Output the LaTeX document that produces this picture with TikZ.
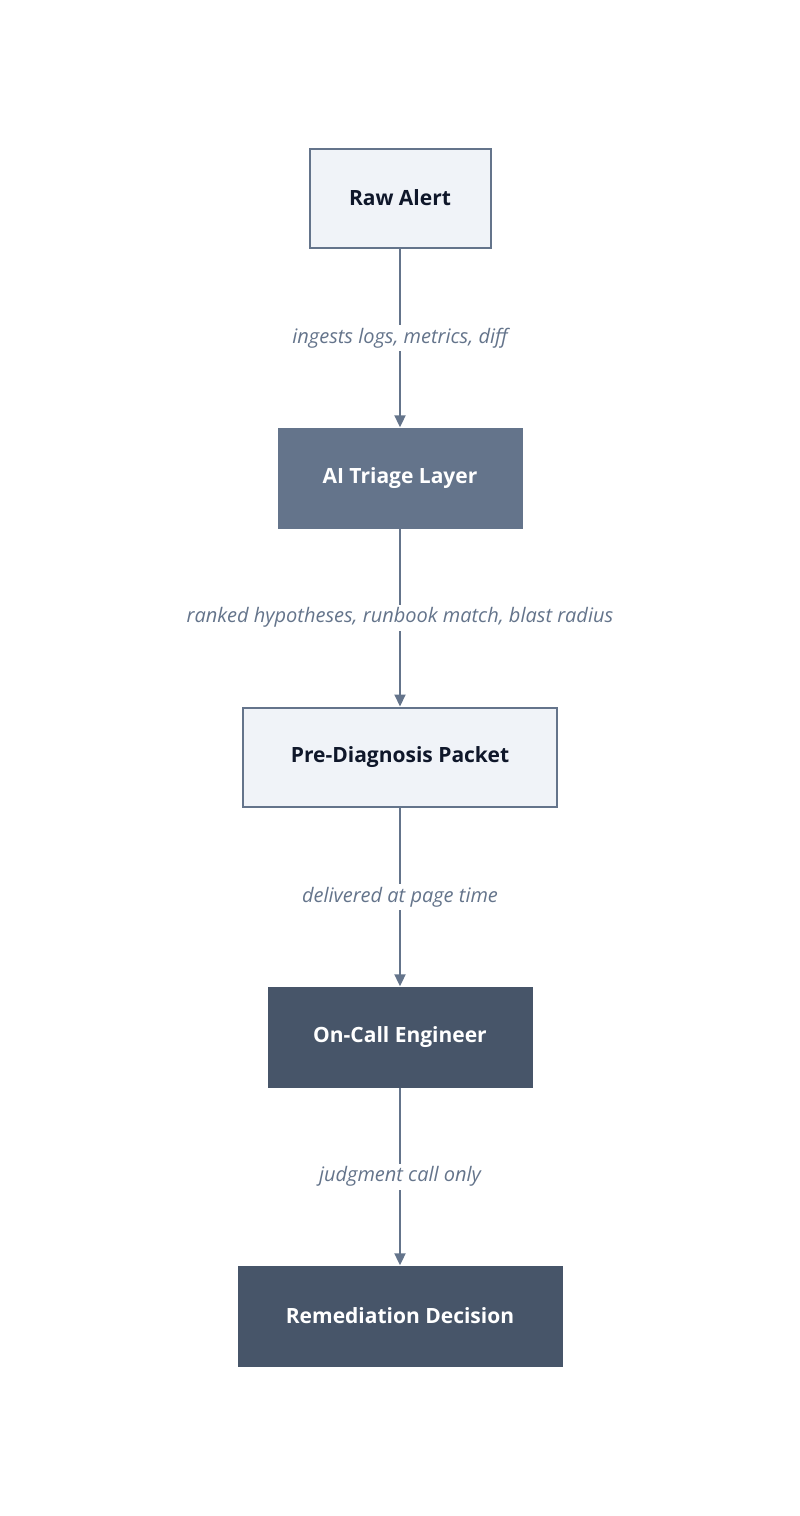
\documentclass[tikz,border=0pt]{standalone}
\usepackage{fontspec}
\setmainfont{Open Sans}
\usetikzlibrary{arrows.meta}
\definecolor{slate}{HTML}{64748B}
\definecolor{darkslate}{HTML}{475569}
\definecolor{paleblue}{HTML}{F0F3F8}
\definecolor{inkblue}{HTML}{0F172A}
\begin{document}
\begin{tikzpicture}[x=1pt,y=-1pt,
    light/.style={draw=slate, line width=2pt, fill=paleblue, text=inkblue, font=\fontsize{21}{25}\selectfont\bfseries, minimum height=99pt, inner sep=0pt},
    mid/.style={fill=slate, text=white, font=\fontsize{21}{25}\selectfont\bfseries, minimum height=101pt, inner sep=0pt},
    dark/.style={fill=darkslate, text=white, font=\fontsize{21}{25}\selectfont\bfseries, minimum height=101pt, inner sep=0pt},
    flow/.style={draw=slate, line width=2pt, -{Triangle[length=12pt,width=11pt]}},
    note/.style={fill=white, text=slate, font=\fontsize{20}{24}\selectfont\itshape, inner sep=3pt}]
    \useasboundingbox (0,0) rectangle (800,1516);

    \node[light, minimum width=181pt] (alert) at (400,198) {Raw Alert};
    \node[mid, minimum width=245pt] (triage) at (400,478) {AI Triage Layer};
    \node[light, minimum width=314pt] (packet) at (400,757) {Pre-Diagnosis Packet};
    \node[dark, minimum width=265pt] (oncall) at (400,1037) {On-Call Engineer};
    \node[dark, minimum width=325pt] (decision) at (400,1316) {Remediation Decision};

    \draw[flow] (alert) -- node[note] {ingests logs, metrics, diff} (triage);
    \draw[flow] (triage) -- node[note] {ranked hypotheses, runbook match, blast radius} (packet);
    \draw[flow] (packet) -- node[note] {delivered at page time} (oncall);
    \draw[flow] (oncall) -- node[note] {judgment call only} (decision);
\end{tikzpicture}
\end{document}
